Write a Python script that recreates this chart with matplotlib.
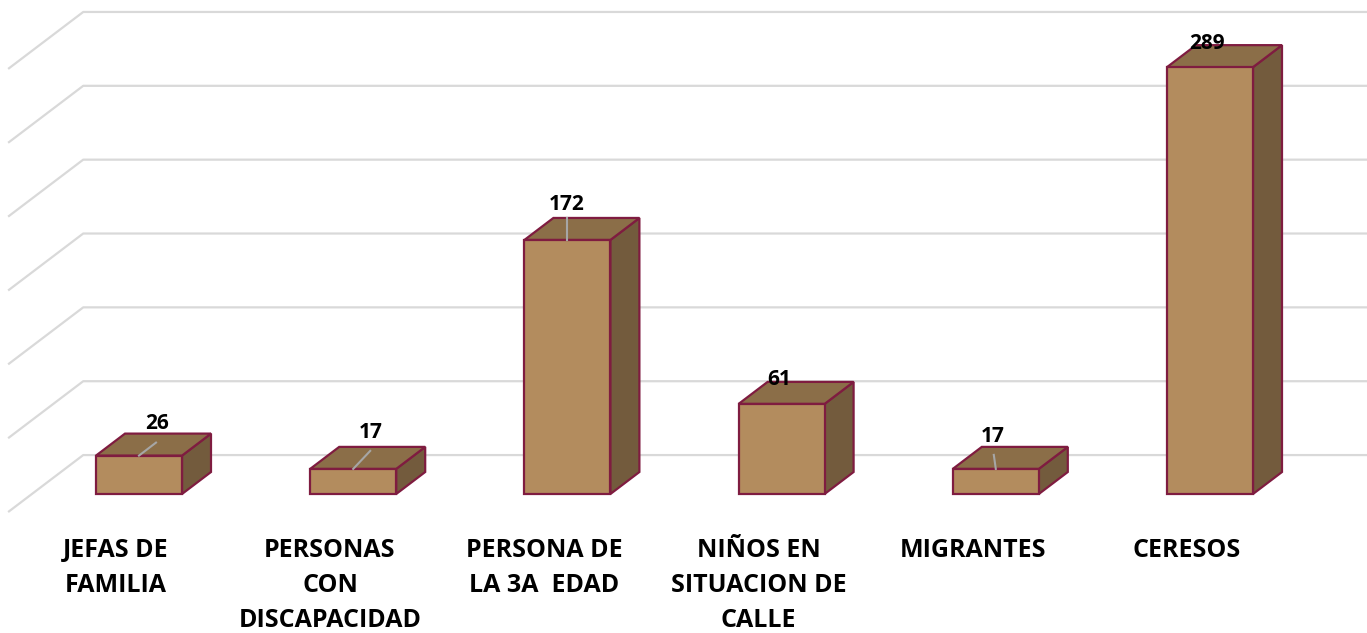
import matplotlib
matplotlib.use('Agg')
import numpy as np
import matplotlib.pyplot as plt
from matplotlib.patches import Polygon

# data
categories = ['JEFAS DE\nFAMILIA', 'PERSONAS\nCON\nDISCAPACIDAD', 'PERSONA DE\nLA 3A  EDAD',
              'NIÑOS EN\nSITUACION DE\nCALLE', 'MIGRANTES', 'CERESOS']
values = [26, 17, 172, 61, 17, 289]
gridvals = [0, 50, 100, 150, 200, 250, 300]

# label offsets (pixels) from bar front-top centre, and leader line ends
label_off = [(18, 32), (18, 36), (-1, 35), (-2, 24), (-3, 32), (-3, 24)]
leader_end = [(17, 13), (17, 18), (0, 22), None, (-2, 14), None]

# pixel scale of the "projection"
PX_CAT = 214.2      # px per category
PX_VAL = 1.477      # px per unit
DX = 29 / PX_CAT    # depth vector (one bar depth)
DY = 22 / PX_VAL
HALF = 43 / PX_CAT  # half bar width
WALL = 1.77         # depth of back wall
FLOOR = -0.82       # depth of floor front edge

front_c = '#B38C5E'
top_c = '#8B6E48'
side_c = '#735B3D'
edge_c = '#7F1C40'
grid_c = '#D9D9D9'

fig = plt.figure(figsize=(13.67, 6.33), dpi=100)
ax = fig.add_axes([0, 0, 1, 1])
ax.set_xlim(-139 / PX_CAT, (1367 - 139) / PX_CAT)
ax.set_ylim((494 - 633) / PX_VAL, 494 / PX_VAL)
ax.axis('off')

# gridlines: back wall + left side wall
xl = -0.5
for g in gridvals:
    bx = xl + WALL * DX
    by = g + WALL * DY
    fx = xl + FLOOR * DX
    fy = g + FLOOR * DY
    ax.plot([fx, bx, ax.get_xlim()[1]], [fy, by, by], color=grid_c, lw=1.6,
            solid_capstyle='butt', zorder=1)

for i, v in enumerate(values):
    x0, x1 = i - HALF, i + HALF
    front = [(x0, 0), (x1, 0), (x1, v), (x0, v)]
    top = [(x0, v), (x1, v), (x1 + DX, v + DY), (x0 + DX, v + DY)]
    side = [(x1, 0), (x1 + DX, DY), (x1 + DX, v + DY), (x1, v)]
    for pts, c in [(side, side_c), (top, top_c), (front, front_c)]:
        ax.add_patch(Polygon(pts, closed=True, facecolor=c, edgecolor=edge_c,
                             lw=1.6, joinstyle='miter', zorder=3))
    le = leader_end[i]
    if le is not None:
        ax.plot([i, i + le[0] / PX_CAT], [v, v + le[1] / PX_VAL], color='#A6A6A6',
                lw=1.5, zorder=4)
    ox, oy = label_off[i]
    ax.text(i + ox / PX_CAT, v + oy / PX_VAL, str(v), ha='center', va='center',
            fontsize=15, fontweight='bold', family='Open Sans', color='black', zorder=5)

    ax.text(i - 0.8 * DX, -29.5, categories[i], ha='center', va='top',
            multialignment='center', fontsize=18, fontweight='bold', family='Open Sans',
            linespacing=1.55, color='black')

plt.savefig('out.png', dpi=100)
